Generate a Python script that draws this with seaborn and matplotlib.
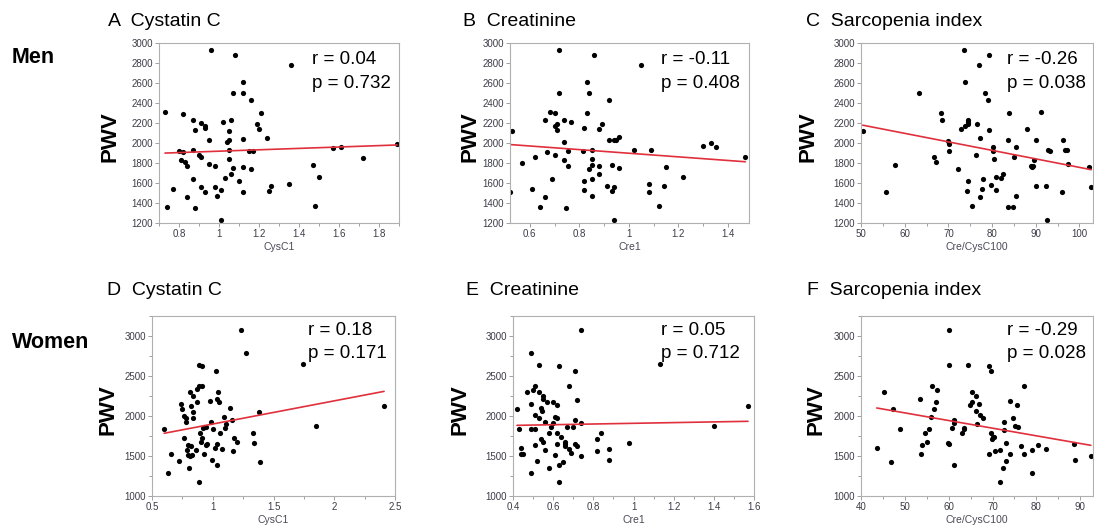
"""
PWV versus kidney / sarcopenia markers, men (top row) and women (bottom row).
Six scatter panels with a least-squares line each.
"""

import numpy as np
import pandas as pd
import matplotlib
matplotlib.use("Agg")
import matplotlib.pyplot as plt
from matplotlib.ticker import MultipleLocator, FuncFormatter
import seaborn as sns

# -----------------------------
# Data
# -----------------------------
# Men
men_cysc = [0.73, 0.74, 0.77, 0.80, 0.81, 0.82, 0.82, 0.83, 0.84, 0.84, 0.87, 0.87,
            0.87, 0.88, 0.88, 0.90, 0.91, 0.91, 0.91, 0.93, 0.93, 0.93, 0.95, 0.95,
            0.96, 0.98, 0.98, 0.99, 1.01, 1.01, 1.02, 1.03, 1.04, 1.05, 1.05, 1.05,
            1.05, 1.06, 1.06, 1.07, 1.07, 1.08, 1.10, 1.12, 1.12, 1.12, 1.12, 1.12,
            1.15, 1.16, 1.16, 1.17, 1.19, 1.20, 1.21, 1.24, 1.25, 1.26, 1.35, 1.36,
            1.47, 1.48, 1.50, 1.57, 1.61, 1.72, 1.89]
men_cysc_pwv = [2310, 1360, 1545, 1920, 1830, 1915, 2295, 1810, 1775, 1460, 2230, 1935,
                1640, 2135, 1355, 1880, 1865, 2200, 1560, 2175, 2150, 1515, 2035, 1790,
                2935, 1775, 1565, 1475, 1230, 1530, 2215, 1650, 2015, 2030, 2125, 1935,
                1840, 2230, 1690, 2500, 1750, 2880, 1625, 2610, 2500, 2040, 1760, 1510,
                1920, 2430, 1745, 1925, 2190, 2140, 2300, 2055, 1520, 1575, 1590, 2780,
                1780, 1370, 1665, 1955, 1965, 1855, 1995]

men_cre = [0.52, 0.53, 0.57, 0.61, 0.62, 0.64, 0.66, 0.66, 0.67, 0.68, 0.69, 0.70,
           0.70, 0.70, 0.71, 0.71, 0.716, 0.717, 0.74, 0.74, 0.74, 0.745, 0.755, 0.755,
           0.765, 0.815, 0.82, 0.82, 0.82, 0.83, 0.83, 0.84, 0.84, 0.85, 0.85, 0.85,
           0.85, 0.85, 0.86, 0.88, 0.88, 0.88, 0.89, 0.91, 0.92, 0.92, 0.93, 0.93,
           0.94, 0.94, 0.94, 0.95, 0.96, 0.96, 1.02, 1.05, 1.08, 1.08, 1.09, 1.12,
           1.14, 1.15, 1.22, 1.30, 1.33, 1.35, 1.47]
men_cre_pwv = [1510, 2120, 1805, 1545, 1860, 1363, 2233, 1460, 1913, 2313, 1637, 2297,
               2167, 1877, 2190, 2133, 2933, 2500, 2013, 2233, 1833, 1353, 1920, 1770,
               2213, 1920, 2147, 1620, 1530, 2610, 2300, 2500, 1740, 1933, 1843, 1783,
               1643, 1473, 2877, 2143, 1773, 1687, 2190, 1567, 2433, 2033, 1783, 1520,
               2033, 1557, 1227, 2033, 2057, 1750, 1930, 2783, 1590, 1507, 1927, 1370,
               1570, 1757, 1663, 1967, 1997, 1960, 1857]

men_si = [50.4, 55.8, 57.7, 63.2, 66.7, 67.2, 68.3, 68.6, 69.8, 70.1, 70.1, 72.1,
          72.9, 73.6, 73.9, 73.9, 74.2, 74.4, 74.4, 74.5, 74.5, 75.4, 76.4, 76.6,
          77.0, 77.2, 77.2, 77.6, 77.9, 78.3, 79.0, 79.2, 79.3, 79.7, 80.2, 80.3,
          80.5, 80.9, 81.0, 82.0, 82.6, 83.6, 83.7, 83.8, 84.8, 85.0, 85.4, 85.5,
          87.9, 88.8, 89.2, 89.4, 89.7, 90.0, 90.0, 91.3, 92.3, 92.6, 92.7, 93.3,
          96.0, 96.3, 96.6, 97.2, 97.4, 102.1, 102.7]
men_si_pwv = [2123, 1513, 1783, 2500, 1860, 1810, 2300, 2233, 2017, 1993, 1923, 1740,
              2143, 2933, 2610, 2173, 1517, 1620, 2233, 2207, 2190, 1370, 1877, 2193,
              2783, 2053, 1460, 1540, 1640, 2500, 2433, 2877, 2133, 1583, 1920, 1960,
              1843, 1527, 1663, 1647, 1687, 2033, 1357, 2300, 1363, 1857, 1473, 1957,
              2143, 1773, 1760, 1773, 1833, 2033, 1573, 2313, 1567, 1227, 1927, 1920,
              1507, 2033, 1927, 1933, 1787, 1760, 1557]

# Women
women_cysc = [0.60, 0.63, 0.66, 0.72, 0.735, 0.746, 0.765, 0.765, 0.776, 0.78, 0.787,
              0.80, 0.80, 0.806, 0.81, 0.814, 0.825, 0.825, 0.828, 0.836, 0.836, 0.836,
              0.863, 0.874, 0.874, 0.885, 0.885, 0.885, 0.896, 0.90, 0.913, 0.913, 0.913,
              0.92, 0.93, 0.93, 0.943, 0.945, 0.954, 0.975, 0.984, 0.995, 1.005, 1.02,
              1.025, 1.033, 1.035, 1.038, 1.04, 1.05, 1.06, 1.074, 1.09, 1.104, 1.11,
              1.14, 1.16, 1.163, 1.175, 1.20, 1.23, 1.27, 1.33, 1.34, 1.38, 1.39,
              1.74, 1.85, 2.41]
women_cysc_pwv = [1836, 1283, 1520, 1437, 2152, 2090, 2006, 1720, 1927, 1969, 1574,
                  1641, 1512, 1354, 1503, 2302, 2127, 1628, 1512, 2252, 2052, 1977,
                  1574, 2335, 2177, 2642, 2372, 1171, 1782, 1678, 2381, 2630, 1728,
                  1844, 1857, 1524, 1636, 1865, 1645, 2190, 1919, 1449, 1836, 1595,
                  2563, 2210, 1387, 1645, 2302, 2177, 1782, 1582, 1990, 1848, 1898,
                  2094, 1948, 1562, 1720, 1670, 3079, 2792, 1786, 1657, 2056, 1420,
                  2647, 1869, 2131]

women_cre = [0.42, 0.43, 0.44, 0.44, 0.45, 0.47, 0.49, 0.49, 0.49, 0.49, 0.50, 0.51,
             0.51, 0.51, 0.51, 0.52, 0.53, 0.53, 0.53, 0.54, 0.54, 0.545, 0.55, 0.55,
             0.55, 0.56, 0.56, 0.57, 0.58, 0.58, 0.59, 0.60, 0.60, 0.61, 0.61, 0.62,
             0.62, 0.62, 0.62, 0.63, 0.63, 0.63, 0.64, 0.65, 0.66, 0.66, 0.66, 0.67,
             0.68, 0.68, 0.69, 0.70, 0.71, 0.71, 0.71, 0.72, 0.72, 0.74, 0.74, 0.74,
             0.82, 0.82, 0.84, 0.88, 0.88, 0.98, 1.13, 1.40, 1.57]
women_cre_pwv = [2085, 1832, 1603, 1520, 1524, 2297, 2788, 2152, 1836, 1283, 2331, 2381,
                 2011, 1836, 1641, 1441, 2638, 2306, 1973, 1707, 2094, 2065, 2252, 2210,
                 1670, 1927, 1578, 2181, 1782, 1354, 1857, 1911, 2169, 1990, 1516, 2135,
                 1981, 1786, 1645, 2630, 1387, 1171, 1732, 1424, 1674, 1645, 1624, 1857,
                 2369, 1582, 1532, 1857, 2563, 1952, 1649, 2194, 1628, 3079, 1907, 1495,
                 1711, 1562, 1782, 1582, 1449, 1657, 2647, 1869, 2131]

women_si = [43.6, 45.2, 46.8, 47.4, 49.0, 53.4, 53.6, 54.0, 54.6, 55.0, 55.5, 55.9,
            56.1, 56.7, 57.1, 57.4, 59.9, 60.1, 60.1, 60.1, 60.8, 61.1, 61.1, 61.1,
            63.1, 63.4, 63.4, 64.5, 64.8, 65.4, 65.4, 66.2, 66.2, 66.5, 67.0, 67.1,
            67.9, 69.1, 69.2, 69.6, 69.6, 69.8, 70.0, 70.3, 70.6, 71.6, 71.7, 72.4,
            72.6, 72.7, 73.0, 73.1, 74.0, 74.0, 74.6, 75.1, 75.5, 75.9, 76.5, 77.1,
            77.1, 78.9, 78.9, 80.3, 82.1, 88.6, 88.8, 92.4]
women_si_pwv = [1595, 2297, 1424, 2090, 1836, 2210, 1520, 1641, 1782, 1678, 1840, 1990,
                2381, 2085, 2173, 2331, 1666, 3079, 2638, 1645, 1853, 1956, 1907, 1387,
                1782, 1853, 1840, 2642, 2135, 2306, 2169, 2060, 2252, 1902, 2144, 2011,
                1969, 1520, 2630, 2563, 1782, 1707, 1732, 1740, 1557, 1171, 1574, 1354,
                1931, 1828, 1657, 1441, 1528, 2190, 1977, 1873, 2135, 1861, 1628, 2372,
                1520, 1578, 1287, 1632, 1587, 1649, 1449, 1495]

panel_letters = ["A", "B", "C", "D", "E", "F"]
panel_titles = ["Cystatin C", "Creatinine", "Sarcopenia index"] * 2
x_labels = ["CysC1", "Cre1", "Cre/CysC100"] * 2
r_values = ["0.04", "-0.11", "-0.26", "0.18", "0.05", "-0.29"]
p_values = ["0.732", "0.408", "0.038", "0.171", "0.712", "0.028"]

panel_data = [
    (men_cysc, men_cysc_pwv), (men_cre, men_cre_pwv), (men_si, men_si_pwv),
    (women_cysc, women_cysc_pwv), (women_cre, women_cre_pwv), (women_si, women_si_pwv),
]

# -----------------------------
# Layout (pixels of a 1094x526 canvas)
# -----------------------------
W, H = 1094, 526
axes_px = [  # left, top, right, bottom
    (159, 43, 399, 223), (510, 43, 749, 223), (861, 43, 1093, 223),
    (152, 316, 395, 496), (513, 316, 754, 496), (861, 316, 1093, 496),
]
xlims = [(0.70, 1.90), (0.52, 1.485), (50, 103.1), (0.5, 2.5), (0.4, 1.6), (40, 92.9)]
xmajor = [0.2, 0.2, 10, 0.5, 0.2, 10]
title_x = [108, 463, 806, 107, 466, 807]
pwv_x = [110, 470, 808, 108, 460, 816]
stat_x = [0.637, 0.632, 0.629, 0.642, 0.614, 0.629]

sns.set_style("white")
plt.rcParams['font.family'] = ['Liberation Sans', 'DejaVu Sans']
plt.rcParams['text.color'] = 'black'

fig = plt.figure(figsize=(W / 100, H / 100), dpi=100)

for i, (xs, ys) in enumerate(panel_data):
    l, t, r, b = axes_px[i]
    ax = fig.add_axes([l / W, 1 - b / H, (r - l) / W, (b - t) / H])
    df = pd.DataFrame({"x": xs, "PWV": ys})
    sns.regplot(data=df, x="x", y="PWV", ax=ax, ci=None, truncate=True,
                scatter_kws=dict(s=14, color="black", linewidths=0, alpha=1),
                line_kws=dict(color="#e0303c", lw=1.2))

    top_row = i < 3
    ax.set_xlim(*xlims[i])
    if top_row:
        ax.set_ylim(1200, 3000)
        ax.yaxis.set_major_locator(MultipleLocator(200))
    else:
        ax.set_ylim(1000, 3250)
        ax.yaxis.set_major_locator(MultipleLocator(500))
        ax.yaxis.set_minor_locator(MultipleLocator(250))
    ax.xaxis.set_major_locator(MultipleLocator(xmajor[i]))
    ax.xaxis.set_minor_locator(MultipleLocator(xmajor[i] / 2))
    fmt = FuncFormatter(lambda v, pos: f"{v:g}")
    ax.xaxis.set_major_formatter(fmt)

    for sp in ax.spines.values():
        sp.set_color("#b0b0b0")
        sp.set_linewidth(0.8)
    ax.tick_params(which="both", direction="out", bottom=True, left=True,
                   color="#a0a0a0", width=0.7,
                   labelsize=7, labelcolor="#3c3c48", pad=1.5)
    ax.tick_params(which="major", length=3)
    ax.tick_params(which="minor", length=2)

    ax.set_xlabel(x_labels[i], fontsize=7.5, color="#4a4a58", labelpad=2)
    ax.set_ylabel("")

    # correlation stats
    base_r = 0.883 if top_row else 0.894
    base_p = 0.750 if top_row else 0.767
    ax.text(stat_x[i], base_r, f"r = {r_values[i]}", transform=ax.transAxes,
            fontsize=13.5, va="baseline", ha="left")
    ax.text(stat_x[i], base_p, f"p = {p_values[i]}", transform=ax.transAxes,
            fontsize=13.5, va="baseline", ha="left")

    # panel title
    title_base = 26 if top_row else 295
    fig.text(title_x[i] / W, 1 - title_base / H, f"{panel_letters[i]}  {panel_titles[i]}",
             fontsize=14, va="baseline", ha="left")

    # PWV label
    mid_y = (t + b) / 2 + 4
    fig.text(pwv_x[i] / W, 1 - mid_y / H, "PWV", fontsize=16, fontweight="bold",
             rotation=90, va="center", ha="center")

fig.text(12 / W, 1 - 63 / H, "Men", fontsize=15.5, fontweight="bold", va="baseline")
fig.text(12 / W, 1 - 348 / H, "Women", fontsize=15.5, fontweight="bold", va="baseline")

fig.savefig("out.png", dpi=100)
plt.close(fig)
